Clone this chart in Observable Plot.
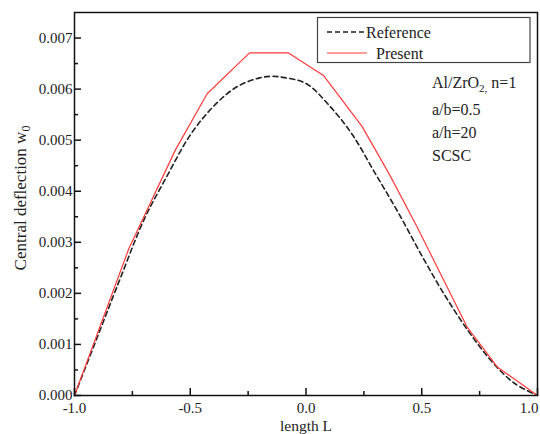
<!DOCTYPE html>
<html><head><meta charset="utf-8">
<script src="https://cdn.jsdelivr.net/npm/d3@7"></script>
<script src="https://cdn.jsdelivr.net/npm/@observablehq/plot@0.6"></script>
<style>body{margin:0;background:#fff;}</style>
</head><body><div id="chart"></div>
<script>
// Reference curve (dashed)
const refX = [-1, -0.9, -0.8, -0.7, -0.6, -0.5, -0.4, -0.3, -0.2, -0.15, -0.1, 0, 0.1, 0.2, 0.3, 0.4, 0.5, 0.6, 0.7, 0.8, 0.9, 1];
const refW = [0, 0.00116, 0.00232, 0.00344, 0.00430, 0.00510, 0.00566, 0.00604, 0.00622, 0.00625, 0.00623, 0.00611, 0.00568, 0.00511, 0.00434, 0.00357, 0.00274, 0.00196, 0.00127, 0.00068, 0.00024, 0];
// Present curve (red)
const presX = [-1, -0.765, -0.564, -0.427, -0.244, -0.077, 0.077, 0.242, 0.358, 0.48, 0.696, 0.826, 1];
const presW = [0, 0.00288, 0.00481, 0.00591, 0.00671, 0.00671, 0.00626, 0.00527, 0.00435, 0.0033, 0.00134, 0.00056, 0];

const xMajor = [-1, -0.5, 0, 0.5, 1];
const xMinor = [-0.75, -0.25, 0.25, 0.75];
const yMajor = [0, 0.001, 0.002, 0.003, 0.004, 0.005, 0.006, 0.007];
const yMinor = [0.0005, 0.0015, 0.0025, 0.0035, 0.0045, 0.0055, 0.0065];

const xLabel = "length L";
const yLabelMain = "Central deflection w";
const yLabelSub = "0";
const legendNames = ["Reference", "Present"];
const annoLines = ["a/b=0.5", "a/h=20", "SCSC"];

const ref = refX.map((x, i) => ({x, w: refW[i]}));
const pres = presX.map((x, i) => ({x, w: presW[i]}));

const W = 540, H = 434, mL = 74, mR = 3, mT = 12, mB = 39;
const innerW = W - mL - mR, innerH = H - mT - mB;
const FONT = "'Liberation Serif', 'Times New Roman', serif";

const plot = Plot.plot({
  width: W, height: H,
  marginLeft: mL, marginRight: mR, marginTop: mT, marginBottom: mB,
  style: {fontFamily: FONT, fontSize: "15px", color: "#222", background: "#fff"},
  x: {domain: [-1, 1]},
  y: {domain: [0, 0.0075]},
  marks: [
    Plot.line(ref, {x: "x", y: "w", stroke: "#222", strokeWidth: 1.6, strokeDasharray: "5,3.5", curve: "catmull-rom"}),
    Plot.line(pres, {x: "x", y: "w", stroke: "#ff3b3b", strokeWidth: 1.2}),
    Plot.tickX(xMajor, {x: d => d, insetTop: innerH - 7, stroke: "#111", strokeWidth: 1.5}),
    Plot.tickX(xMinor, {x: d => d, insetTop: innerH - 4, stroke: "#111", strokeWidth: 1.5}),
    Plot.tickY(yMajor, {y: d => d, insetRight: innerW - 7, stroke: "#111", strokeWidth: 1.5}),
    Plot.tickY(yMinor, {y: d => d, insetRight: innerW - 4, stroke: "#111", strokeWidth: 1.5}),
    Plot.axisX({ticks: xMajor.slice(0, -1), tickSize: 0, tickPadding: 7, tickFormat: d => d.toFixed(1), label: null, fontSize: 15}),
    Plot.axisX({ticks: xMajor.slice(-1), tickSize: 0, tickPadding: 7, textAnchor: "end", dx: 1, tickFormat: d => d.toFixed(1), label: null, fontSize: 15}),
    Plot.axisY({ticks: yMajor, tickSize: 0, tickPadding: 2, tickFormat: d => d.toFixed(3), label: null, fontSize: 15}),
    Plot.frame({stroke: "#111", strokeWidth: 1.5}),
    Plot.text([xLabel], {frameAnchor: "bottom", lineAnchor: "middle", textAnchor: "middle", dy: 30.5, text: d => d, fontSize: 15.5}),
    Plot.text([yLabelMain], {frameAnchor: "left", textAnchor: "middle", lineAnchor: "middle", dx: -54, dy: -6, rotate: -90, text: d => d, fontSize: 17})
  ]
});

const svg = d3.select(plot);
// subscript on y label
svg.selectAll("text").filter(function() { return this.textContent === yLabelMain; })
  .append("tspan").attr("dy", "0.35em").attr("font-size", 12).text(yLabelSub);

// legend
const lg = svg.append("g").attr("font-size", 16).attr("fill", "#222").attr("text-anchor", "start");
lg.append("rect").attr("x", 317.5).attr("y", 17.5).attr("width", 212.5).attr("height", 45)
  .attr("fill", "white").attr("stroke", "#444").attr("stroke-width", 1.2);
lg.append("line").attr("x1", 327).attr("x2", 366).attr("y1", 32).attr("y2", 32)
  .attr("stroke", "#222").attr("stroke-width", 1.3).attr("stroke-dasharray", "5,3");
lg.append("text").attr("x", 366).attr("y", 32).attr("dy", "0.35em").attr("text-anchor", "start").text(legendNames[0]);
lg.append("line").attr("x1", 327).attr("x2", 367).attr("y1", 53).attr("y2", 53)
  .attr("stroke", "#ff3b3b").attr("stroke-width", 1.2);
lg.append("text").attr("x", 376).attr("y", 53).attr("dy", "0.35em").attr("text-anchor", "start").text(legendNames[1]);

// annotations
const an = svg.append("g").attr("font-size", 16).attr("fill", "#222").attr("text-anchor", "start");
const t1 = an.append("text").attr("x", 432).attr("y", 82).attr("dy", "0.35em").attr("text-anchor", "start");
t1.append("tspan").text("Al/ZrO");
t1.append("tspan").attr("dy", 4).attr("font-size", 11).text("2");
t1.append("tspan").attr("font-size", 11).text(",");
t1.append("tspan").attr("dy", -4).text(" n=1");
annoLines.forEach((s, i) => {
  an.append("text").attr("x", 432).attr("y", 109 + i * 23).attr("dy", "0.35em").attr("text-anchor", "start").text(s);
});

// force the serif face on every text
svg.selectAll("text").style("font-family", FONT).style("font-variant", "normal");

document.getElementById("chart").appendChild(plot);
</script>
</body></html>
